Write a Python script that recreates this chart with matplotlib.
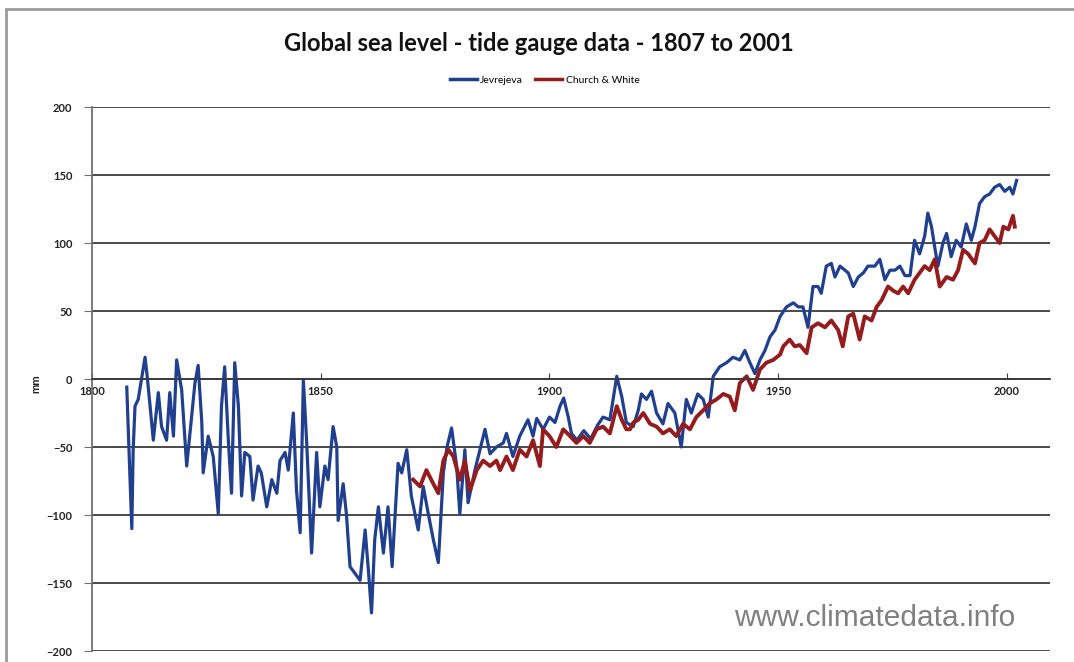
import matplotlib
matplotlib.use("Agg")
import matplotlib.pyplot as plt
from matplotlib.patches import Rectangle

# Jevrejeva reconstruction (mm)
jev_years = [1807.6, 1808.7, 1809.0, 1809.4, 1810.1, 1811.6, 1812.0, 1812.7, 1813.4, 1814.5,
             1815.2, 1816.3, 1817.0, 1817.8, 1818.5, 1819.6, 1820.7, 1821.4, 1822.5, 1823.2,
             1824.0, 1824.3, 1825.4, 1826.5, 1827.6, 1828.3, 1829.0, 1829.8, 1830.5, 1831.2,
             1832.0, 1832.7, 1833.4, 1834.5, 1835.2, 1836.3, 1837.0, 1838.2, 1839.3, 1840.4,
             1841.1, 1842.2, 1842.9, 1844.0, 1844.7, 1845.5, 1846.2, 1846.9, 1848.0, 1849.1,
             1849.8, 1850.9, 1851.6, 1852.7, 1853.5, 1853.8, 1854.9, 1855.6, 1856.4, 1857.5,
             1858.6, 1859.7, 1860.4, 1861.1, 1861.8, 1862.6, 1863.7, 1864.7, 1865.6, 1866.9,
             1867.7, 1868.8, 1869.8, 1871.3, 1872.4, 1873.5, 1874.6, 1875.7, 1876.8, 1877.6,
             1878.6, 1879.7, 1880.4, 1881.5, 1882.2, 1883.7, 1885.9, 1887.0, 1888.4, 1889.9,
             1890.6, 1892.0, 1893.5, 1895.3, 1896.4, 1897.2, 1898.6, 1900.0, 1901.2, 1902.3,
             1903.1, 1904.1, 1904.8, 1906.0, 1907.5, 1909.0, 1910.5, 1911.7, 1913.2, 1914.7,
             1915.8, 1916.8, 1918.3, 1919.4, 1920.1, 1921.2, 1922.3, 1923.4, 1924.8, 1925.9,
             1927.4, 1928.8, 1929.9, 1931.0, 1932.4, 1933.6, 1934.7, 1935.8, 1937.2, 1938.7,
             1940.1, 1941.6, 1942.7, 1943.8, 1944.9, 1946.0, 1947.1, 1948.2, 1949.3, 1950.4,
             1951.8, 1953.3, 1954.4, 1955.4, 1956.5, 1957.6, 1958.7, 1959.4, 1960.5, 1961.6,
             1962.4, 1963.5, 1964.6, 1965.3, 1966.4, 1967.5, 1968.6, 1969.6, 1971.1, 1972.2,
             1973.3, 1974.4, 1975.5, 1976.6, 1977.7, 1978.8, 1979.8, 1980.9, 1982.0, 1982.7,
             1983.5, 1984.2, 1984.9, 1986.0, 1986.8, 1987.8, 1988.9, 1990.0, 1991.1, 1992.2,
             1993.0, 1994.0, 1995.1, 1996.2, 1997.3, 1998.4, 1999.5, 2000.6, 2001.3, 2002.1]
jev_mm = [-6, -110, -52, -20, -15, 16, 4, -20, -45, -10,
          -35, -45, -10, -42, 14, -8, -64, -40, -3, 10,
          -32, -69, -42, -57, -99, -20, 9, -45, -84, 12,
          -20, -86, -54, -57, -89, -64, -69, -94, -74, -84,
          -60, -54, -67, -25, -82, -113, -1, -45, -128, -54,
          -94, -64, -74, -35, -50, -104, -77, -99, -138, -143,
          -148, -111, -140, -172, -118, -94, -128, -94, -138, -62,
          -69, -52, -86, -111, -79, -99, -118, -135, -69, -50,
          -36, -64, -99, -52, -91, -67, -37, -55, -50, -47,
          -40, -57, -42, -30, -42, -29, -37, -28, -32, -20,
          -14, -28, -40, -45, -38, -44, -34, -28, -30, 2,
          -13, -32, -35, -23, -11, -15, -9, -25, -33, -18,
          -25, -50, -15, -25, -11, -15, -28, 2, 9, 12,
          16, 14, 21, 12, 4, 14, 21, 31, 36, 46,
          53, 56, 53, 53, 38, 68, 68, 63, 83, 85,
          75, 83, 80, 78, 68, 75, 78, 83, 83, 88,
          73, 80, 80, 83, 76, 76, 102, 92, 105, 122,
          112, 97, 83, 100, 107, 90, 102, 97, 114, 102,
          112, 129, 134, 136, 141, 143, 138, 141, 136, 146]

# Church & White reconstruction (mm)
cw_years = [1870.2, 1871.7, 1873.1, 1874.6, 1875.7, 1876.8, 1877.9, 1879.0, 1880.4, 1881.5,
            1882.6, 1884.1, 1885.5, 1887.0, 1888.4, 1889.2, 1890.6, 1892.0, 1893.5, 1895.0,
            1896.4, 1897.9, 1898.6, 1900.0, 1901.5, 1903.0, 1904.5, 1905.9, 1907.4, 1908.8,
            1910.3, 1911.7, 1913.2, 1914.7, 1915.8, 1916.8, 1917.6, 1918.3, 1919.4, 1920.5,
            1922.0, 1923.4, 1924.8, 1926.3, 1927.7, 1929.2, 1930.7, 1932.1, 1933.6, 1935.0,
            1936.5, 1938.0, 1939.4, 1940.5, 1941.6, 1943.1, 1944.5, 1946.0, 1947.4, 1948.9,
            1950.4, 1951.1, 1952.5, 1953.6, 1954.7, 1956.2, 1957.3, 1958.7, 1960.2, 1961.6,
            1963.1, 1964.1, 1965.3, 1966.4, 1967.8, 1968.9, 1970.4, 1971.5, 1972.6, 1974.0,
            1975.1, 1976.2, 1977.3, 1978.4, 1979.8, 1980.9, 1982.0, 1983.1, 1984.2, 1985.3,
            1986.8, 1988.2, 1989.3, 1990.4, 1991.5, 1993.0, 1994.0, 1995.1, 1996.2, 1997.3,
            1998.4, 1999.2, 2000.3, 2001.3, 2001.7]
cw_mm = [-74, -79, -67, -77, -84, -60, -52, -57, -74, -60,
         -82, -67, -60, -64, -60, -67, -57, -67, -52, -57,
         -45, -64, -37, -42, -50, -37, -42, -47, -42, -47,
         -37, -35, -40, -20, -30, -37, -37, -32, -30, -25,
         -33, -35, -40, -37, -42, -33, -37, -28, -23, -18,
         -15, -11, -13, -23, -3, 2, -8, 7, 12, 14,
         18, 24, 29, 24, 25, 19, 38, 41, 38, 43,
         36, 24, 46, 48, 29, 46, 43, 53, 58, 68,
         65, 63, 68, 63, 73, 78, 83, 80, 88, 68,
         75, 73, 80, 95, 92, 85, 100, 102, 110, 105,
         100, 112, 110, 120, 112]

x_ticks = [1800, 1850, 1900, 1950, 2000]
y_ticks = [-200, -150, -100, -50, 0, 50, 100, 150, 200]

fig = plt.figure(figsize=(10.74, 6.62), dpi=100)
fig.patch.set_facecolor("white")

# outer frame of the original picture
fig.patches.append(Rectangle((6 / 1074, -0.1), 1.2, 1 - 9 / 662 + 0.1,
                             transform=fig.transFigure, fill=False,
                             edgecolor="#9a9a9a", linewidth=2))

ax = fig.add_axes([92 / 1074, 11 / 662, 958 / 1074, 544 / 662])
ax.plot(jev_years, jev_mm, color="#213f8f", lw=2.3, label="Jevrejeva")
ax.plot(cw_years, cw_mm, color="#951c1c", lw=2.8, label="Church & White")

ax.set_xlim(1800, 2009.4)
ax.set_ylim(-200, 200)
ax.set_yticks(y_ticks)
ax.set_xticks(x_ticks)
ax.yaxis.grid(True, color="#3c3c3c", lw=1.3)
ax.set_axisbelow(True)

for s in ["top", "right"]:
    ax.spines[s].set_visible(False)
ax.spines["left"].set_color("#707070")
ax.spines["left"].set_linewidth(1.3)
ax.spines["bottom"].set_position(("data", 0))
ax.spines["bottom"].set_color("#3c3c3c")
ax.spines["bottom"].set_linewidth(1.3)

ax.tick_params(axis="y", direction="out", length=6, color="#707070", pad=8,
               labelsize=8, labelcolor="#222222")
ax.tick_params(axis="x", direction="in", length=4, color="#3c3c3c", pad=5,
               labelsize=8, labelcolor="#222222")
for lab in ax.get_xticklabels() + ax.get_yticklabels():
    lab.set_fontfamily("Lato")
    lab.set_fontweight("bold")

fig.text(0.502, 0.935, "Global sea level - tide gauge data - 1807 to 2001",
         ha="center", va="center", fontsize=17, fontweight="bold",
         family="Lato", color="#111111")
leg = fig.legend(loc="center", bbox_to_anchor=(0.507, 0.879), ncol=2, frameon=False,
                 prop={"family": "Lato", "size": 7.5}, handlelength=2.6,
                 handletextpad=0.3, columnspacing=1.2)
for line in leg.get_lines():
    line.set_linewidth(2.5)
fig.text(0.033, 0.42, "mm", rotation=90, ha="center", va="center",
         fontsize=8, fontweight="bold", family="Lato", color="#222222")
fig.text(0.8147, 0.066, "www.climatedata.info", ha="center", va="center",
         fontsize=21.5, family="Liberation Sans", color="#808080")

fig.savefig("out.png", dpi=100)
